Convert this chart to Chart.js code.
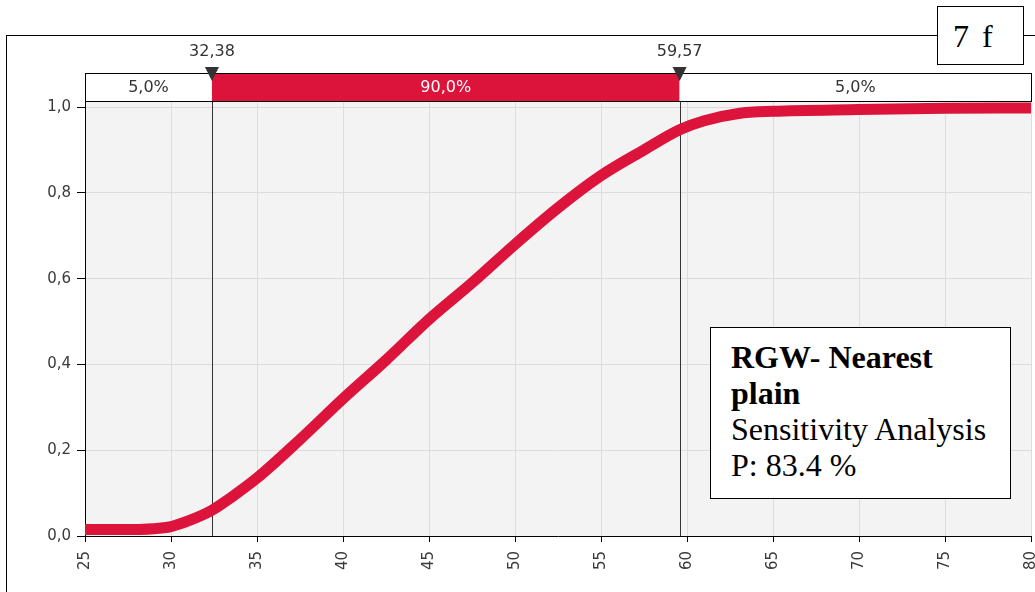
<!DOCTYPE html>
<html>
<head>
<meta charset="utf-8">
<script src="https://cdn.jsdelivr.net/npm/chart.js@4.4.1/dist/chart.umd.min.js"></script>
<style>
  html, body { margin: 0; padding: 0; background: #fff; }
  #wrap { position: relative; width: 1035px; height: 592px; overflow: hidden; }
  #frame { position: absolute; left: 6px; top: 35px; width: 1040px; height: 600px;
           border-top: 1.5px solid #000; border-left: 1.5px solid #000; }
  #tag { position: absolute; left: 937px; top: 6px; width: 87px; height: 59px; background: #fff;
         border: 1px solid #000; font-family: "Liberation Serif", serif; font-size: 32px;
         line-height: 58px; padding-left: 15px; word-spacing: 5px; box-sizing: border-box; }
  #note { position: absolute; left: 710px; top: 327px; background: #fff;
          border: 1px solid #000; font-family: "Liberation Serif", serif; font-size: 32px;
          line-height: 36px; padding: 11px 0 0 20px; box-sizing: border-box; width: 301px; height: 172px; }
  canvas { position: absolute; left: 0; top: 0; }
</style>
</head>
<body>
<div id="wrap">
  <div id="frame"></div>
  <canvas id="myChart" width="1035" height="592"></canvas>
  <div id="tag">7 f</div>
  <div id="note"><b>RGW- Nearest<br>plain</b><br>Sensitivity Analysis<br>P: 83.4 %</div>
</div>
<script>
// curve (cumulative probability)
const xValues = [25, 27, 29, 30, 31, 32.38, 33.5, 35, 37.5, 40, 42.5, 45, 47.5, 50, 52.5, 55, 57.5, 59.57, 61, 63, 65, 70, 75, 80];
const cdfValues = [0.015, 0.015, 0.017, 0.022, 0.035, 0.06, 0.09, 0.135, 0.225, 0.32, 0.41, 0.505, 0.59, 0.68, 0.765, 0.84, 0.9, 0.947, 0.968, 0.985, 0.99, 0.994, 0.997, 0.998];
const xTicks = [25, 30, 35, 40, 45, 50, 55, 60, 65, 70, 75, 80];
const yTicks = [0, 0.2, 0.4, 0.6, 0.8, 1.0];
const cutValues = [32.38, 59.57];
const cutLabels = ['32,38', '59,57'];
const bandLabels = ['5,0%', '90,0%', '5,0%'];

const red = 'rgb(220,20,60)';
const tickFont = { family: 'DejaVu Sans', size: 15 };

const overlay = {
  id: 'overlay',
  beforeDraw(chart) {
    const { ctx, chartArea: a } = chart;
    ctx.save();
    ctx.fillStyle = '#f3f3f3';
    ctx.fillRect(a.left, a.top, a.right - a.left, a.bottom - a.top);
    ctx.restore();
  },
  beforeDatasetsDraw(chart) {
    const { ctx, chartArea: a } = chart;
    const xs = chart.scales.x;
    ctx.save();
    ctx.strokeStyle = '#333';
    ctx.lineWidth = 1;
    cutValues.forEach(v => {
      const px = Math.round(xs.getPixelForValue(v)) + 0.5;
      ctx.beginPath();
      ctx.moveTo(px, 75);
      ctx.lineTo(px, a.bottom);
      ctx.stroke();
    });
    ctx.restore();
  },
  afterDraw(chart) {
    const { ctx, chartArea: a } = chart;
    const xs = chart.scales.x;
    const top = 73, h = 28;
    const edges = [a.left, xs.getPixelForValue(cutValues[0]), xs.getPixelForValue(cutValues[1]), a.right];
    ctx.save();
    ctx.font = '16px "DejaVu Sans"';
    ctx.textAlign = 'center';
    ctx.textBaseline = 'middle';
    for (let i = 0; i < 3; i++) {
      ctx.fillStyle = i === 1 ? red : '#fff';
      ctx.fillRect(edges[i], top, edges[i + 1] - edges[i], h);
      ctx.fillStyle = i === 1 ? '#fff' : '#333';
      ctx.fillText(bandLabels[i], (edges[i] + edges[i + 1]) / 2, top + h / 2 + 1);
    }
    ctx.strokeStyle = '#000';
    ctx.lineWidth = 1;
    ctx.strokeRect(a.left + 0.5, top + 0.5, a.right - a.left, h);
    cutValues.forEach((v, i) => {
      const px = xs.getPixelForValue(v);
      ctx.fillStyle = '#333';
      ctx.beginPath();
      ctx.moveTo(px - 7, 67);
      ctx.lineTo(px + 7, 67);
      ctx.lineTo(px, 81);
      ctx.closePath();
      ctx.fill();
      ctx.fillText(cutLabels[i], px, 52);
    });
    ctx.restore();
  }
};

new Chart(document.getElementById('myChart').getContext('2d'), {
  type: 'line',
  data: {
    datasets: [{
      data: xValues.map((x, i) => ({ x: x, y: cdfValues[i] })),
      borderColor: red,
      borderWidth: 11,
      pointRadius: 0,
      cubicInterpolationMode: 'monotone',
      fill: false
    }]
  },
  options: {
    responsive: false,
    animation: false,
    layout: { padding: { left: 5, top: 102, right: 4, bottom: 0 } },
    plugins: { legend: { display: false }, tooltip: { enabled: false } },
    scales: {
      x: {
        type: 'linear',
        min: 25,
        max: 80,
        afterBuildTicks: s => { s.ticks = xTicks.map(v => ({ value: v })); },
        afterFit: s => { s.height = 56; s.paddingLeft = 0; s.paddingRight = 0; },
        grid: { color: '#dcdcdc', tickColor: '#000', tickLength: 6 },
        border: { color: '#000', width: 1 },
        ticks: { color: '#3a3a3a', font: tickFont, minRotation: 90, maxRotation: 90, padding: 9 }
      },
      y: {
        min: 0,
        max: 1.0117,
        afterBuildTicks: s => { s.ticks = yTicks.map(v => ({ value: v })); },
        afterFit: s => { s.width = 80; s.paddingTop = 0; s.paddingBottom = 0; },
        grid: { color: '#dcdcdc', tickColor: '#000', tickLength: 8 },
        border: { color: '#000', width: 1 },
        ticks: { color: '#3a3a3a', font: tickFont, padding: 6,
                 callback: v => v.toFixed(1).replace('.', ',') }
      }
    }
  },
  plugins: [overlay]
});
</script>
</body>
</html>
